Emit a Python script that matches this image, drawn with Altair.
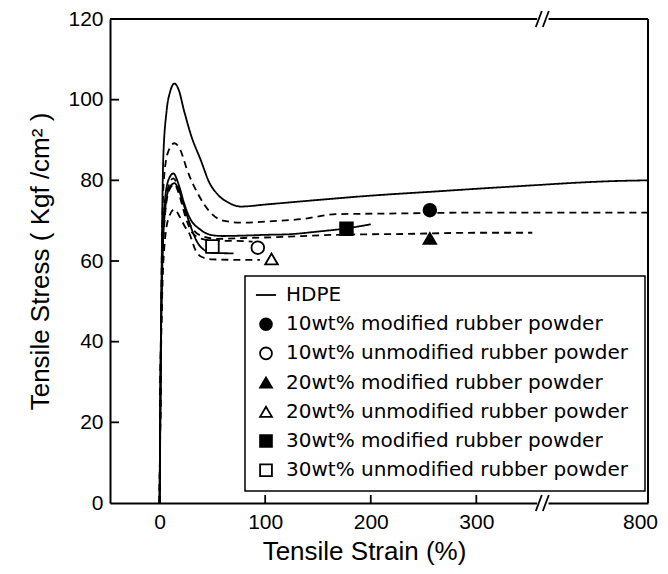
import altair as alt
import pandas as pd

# ---------------- data ----------------
SERIES = [
    "HDPE",
    "10wt% modified rubber powder",
    "10wt% unmodified rubber powder",
    "20wt% modified rubber powder",
    "20wt% unmodified rubber powder",
    "30wt% modified rubber powder",
    "30wt% unmodified rubber powder",
]

HDPE_X = [0, 1, 2, 3.4, 6.7, 10, 14, 18, 23, 30, 39, 47, 55, 65, 77, 100, 135, 200, 259, 300, 356, 500, 650, 800]
HDPE_Y = [0, 30, 60, 85, 97.4, 102, 104, 102.5, 97.4, 91, 85, 79.5, 76.5, 74.5, 73.5, 74, 74.8, 76.2, 77.2, 77.9, 78.8, 79.4, 79.8, 80]

M10_X = [0, 1, 2, 4, 8, 14, 19.7, 26, 36, 49, 60, 78, 102, 135, 167, 230, 300, 360, 500, 800]
M10_Y = [0, 35, 60, 80, 87, 89.2, 87.5, 82.6, 76.8, 71.8, 70, 69.5, 69.8, 70.4, 71.6, 71.8, 72, 72, 72, 72]

U10_X = [0, 1, 2.5, 5, 9, 14, 19, 25, 31, 40, 55, 70, 88]
U10_Y = [0, 33, 57, 71, 77.5, 79, 76, 70.5, 67, 65.5, 65, 65, 64.8]

M20_X = [0, 1, 2.5, 5, 9, 13, 18, 24, 30, 40, 55, 80, 109, 167, 230, 300, 353]
M20_Y = [0, 34, 58, 73, 79, 80.5, 78, 72, 68.5, 66.2, 65.5, 65.7, 65.9, 66.5, 66.7, 67, 67]

U20_X = [0, 1, 2.5, 5, 9, 14, 19, 24, 28, 34, 39, 50, 70, 95]
U20_Y = [0, 30, 52, 65, 71, 72.8, 71, 68.5, 66.9, 62.7, 61.1, 60.4, 60.3, 60.3]

M30_X = [0, 1, 2.5, 5, 9, 13, 18, 23, 28, 39, 50, 59, 80, 102, 120, 150, 177, 200]
M30_Y = [0, 35, 60, 75, 80.5, 81.7, 79, 74.5, 71, 67.7, 66.4, 66.2, 66.3, 66.5, 66.6, 67.3, 68.1, 69.1]

U30_X = [0, 1, 2.5, 5, 9, 14, 19, 24, 29.5, 35, 42.4, 50, 70]
U30_Y = [0, 35, 58, 72, 78, 79.3, 77, 73, 68.5, 65, 62.7, 62, 61.9]

MARK_SERIES = SERIES[1:]
MARK_X = [256, 93, 256, 106, 177, 50]
MARK_Y = [72.6, 63.3, 65.6, 60.5, 68.0, 63.6]

X_TICKS = [0, 100, 200, 300, 800]
Y_TICKS = [0, 20, 40, 60, 80, 100, 120]
INNER_X_TICKS = [100, 200, 300]
INNER_Y_TICKS = [20, 40, 60, 80, 100]
X_MIN, X_MAX = -47, 800
BREAK_AT = 363          # axis break (strain %)
TAIL = 0.228            # compression of the 363..800 segment


def pos(s):
    """Broken-axis coordinate: linear up to the break, compressed after it."""
    return s if s <= BREAK_AT else BREAK_AT + (s - BREAK_AT) * TAIL


# ---------------- styling / layout ----------------
FONT = "Liberation Sans"
LEG_FONT = "DejaVu Sans"
W, H = 538, 484
DASHES = [[1, 0], [7, 5], [7, 5], [7, 5], [7, 5], [1, 0], [1, 0]]
SHAPES = ["M-1.7,0L1.7,0", "circle", "circle", "triangle-up", "triangle-up", "square", "square"]
FILLS = ["black", "black", "white", "black", "white", "black", "white"]
LEG_BOX = (135, 257, 535, 472)      # legend frame, px inside the plot
LEG_SYM_X, LEG_TXT_X = 156, 176
LEG_ROW0, LEG_STEP = 276, 29.2

curves = [HDPE_X, M10_X, U10_X, M20_X, U20_X, M30_X, U30_X]
values = [HDPE_Y, M10_Y, U10_Y, M20_Y, U20_Y, M30_Y, U30_Y]
rows = []
for name, xs, ys in zip(SERIES, curves, values):
    for i, (a, b) in enumerate(zip(xs, ys)):
        rows.append({"series": name, "strain": a, "pos": pos(a), "stress": b, "i": i})
df_lines = pd.DataFrame(rows)
df_marks = pd.DataFrame({"series": MARK_SERIES, "strain": MARK_X,
                         "pos": [pos(v) for v in MARK_X], "stress": MARK_Y})
df_xt = pd.DataFrame({"pos": [pos(v) for v in INNER_X_TICKS], "stress": [0] * len(INNER_X_TICKS)})
df_yt = pd.DataFrame({"pos": [pos(X_MIN)] * len(INNER_Y_TICKS), "stress": INNER_Y_TICKS})
df_break = pd.DataFrame({"pos": [pos(BREAK_AT)] * 2, "stress": [0, 120]})
df_frame = pd.DataFrame({"pos": [pos(X_MIN)], "pos2": [pos(X_MAX)], "stress": [0], "stress2": [120]})
# legend rows placed on the stress scale (pixel row -> stress units)
df_leg = pd.DataFrame({"series": SERIES,
                       "lstress": [120 * (1 - (LEG_ROW0 + LEG_STEP * k) / H) for k in range(len(SERIES))]})
df_one = pd.DataFrame({"a": [0]})

tick_pos = [pos(v) for v in X_TICKS]
label_expr = "datum.value > %g ? '800' : datum.label" % (BREAK_AT + 1)
last_test = "datum.value > %g" % (BREAK_AT + 1)

xscale = alt.Scale(domain=[pos(X_MIN), pos(X_MAX)], nice=False, zero=False)
yscale = alt.Scale(domain=[0, 120], nice=False, zero=False)
shape_scale = alt.Scale(domain=SERIES, range=SHAPES)
fill_scale = alt.Scale(domain=SERIES, range=FILLS)

xaxis = alt.Axis(values=tick_pos, labelExpr=label_expr, title="Tensile Strain (%)", grid=False,
                 ticks=False, domainColor="black", domainWidth=2, labelFont=FONT, labelFontSize=21,
                 labelColor="black", labelPadding=8, titleFont=FONT, titleFontSize=26,
                 labelOffset={"condition": {"test": last_test, "value": -8}, "value": 0},
                 titleFontWeight="normal", titleColor="black", titleX=254, titleY=56,
                 titleBaseline="alphabetic", labelFlush=False, labelOverlap=False)
yaxis = alt.Axis(values=Y_TICKS, title="Tensile  Stress ( Kgf /cm² )", grid=False, ticks=False,
                 domainColor="black", domainWidth=2, labelFont=FONT, labelFontSize=21,
                 labelColor="black", labelPadding=7, titleFont=FONT, titleFontSize=26,
                 titleFontWeight="normal", titleColor="black", titleX=-62, titleY=242,
                 titleBaseline="alphabetic", titleAngle=270, labelFlush=False, labelOverlap=False)


def X(f="pos:Q"):
    return alt.X(f, scale=xscale, axis=xaxis)


def Y(f="stress:Q"):
    return alt.Y(f, scale=yscale, axis=yaxis)


lines = alt.Chart(df_lines).mark_line(interpolate="monotone", color="black", strokeWidth=1.8).encode(
    x=X(), y=Y(),
    detail="series:N",
    order="i:Q",
    strokeDash=alt.StrokeDash("series:N", scale=alt.Scale(domain=SERIES, range=DASHES), legend=None),
)

frame_top = alt.Chart(df_frame).mark_rule(color="black", strokeWidth=2).encode(
    x=X(), x2="pos2:Q", y=Y("stress2:Q"))
frame_right = alt.Chart(df_frame).mark_rule(color="black", strokeWidth=2).encode(
    x=X("pos2:Q"), y=Y(), y2="stress2:Q")

xt = alt.Chart(df_xt).mark_rule(color="black", strokeWidth=1.8, y2Offset=-8).encode(
    x=X(), x2="pos:Q", y=Y(), y2="stress:Q")
yt = alt.Chart(df_yt).mark_rule(color="black", strokeWidth=1.8, x2Offset=9).encode(
    x=X(), x2="pos:Q", y=Y(), y2="stress:Q")

gap = alt.Chart(df_break).mark_point(shape="square", filled=True, color="white", size=130, opacity=1).encode(
    x=X(), y=Y())
slash1 = alt.Chart(df_break).mark_rule(color="black", strokeWidth=1.8, xOffset=-7, x2Offset=-1,
                                        yOffset=8, y2Offset=-8).encode(
    x=X(), x2="pos:Q", y=Y(), y2="stress:Q")
slash2 = alt.Chart(df_break).mark_rule(color="black", strokeWidth=1.8, xOffset=0, x2Offset=6,
                                        yOffset=8, y2Offset=-8).encode(
    x=X(), x2="pos:Q", y=Y(), y2="stress:Q")

marks = alt.Chart(df_marks).mark_point(size=160, stroke="black", strokeWidth=1.8, opacity=1,
                                       fillOpacity=1).encode(
    x=X(), y=Y(),
    shape=alt.Shape("series:N", scale=shape_scale, legend=None),
    fill=alt.Fill("series:N", scale=fill_scale, legend=None),
)

# ---- legend (drawn as marks) ----
leg_box = alt.Chart(df_one).mark_rect(fill="white", stroke="black", strokeWidth=1.5).encode(
    x=alt.value(LEG_BOX[0]), x2=alt.value(LEG_BOX[2]),
    y=alt.value(LEG_BOX[1]), y2=alt.value(LEG_BOX[3]))
leg_sym = alt.Chart(df_leg).mark_point(size=140, stroke="black", strokeWidth=1.8, opacity=1,
                                       fillOpacity=1).encode(
    x=alt.value(LEG_SYM_X), y=Y("lstress:Q"),
    shape=alt.Shape("series:N", scale=shape_scale, legend=None),
    fill=alt.Fill("series:N", scale=fill_scale, legend=None),
)
leg_txt = alt.Chart(df_leg).mark_text(align="left", baseline="middle", font=LEG_FONT, fontSize=20,
                                      color="black").encode(
    x=alt.value(LEG_TXT_X), y=Y("lstress:Q"), text="series:N")

chart = alt.layer(lines, frame_top, frame_right, xt, yt, gap, slash1, slash2, marks,
                  leg_box, leg_sym, leg_txt).properties(
    width=W, height=H,
    autosize=alt.AutoSizeParams(type="none"),
    padding={"left": 102, "top": 11, "right": 12, "bottom": 63},
    background="white",
).configure_view(stroke="transparent")

chart.save("out.html", embed_options={"renderer": "svg", "actions": False})
